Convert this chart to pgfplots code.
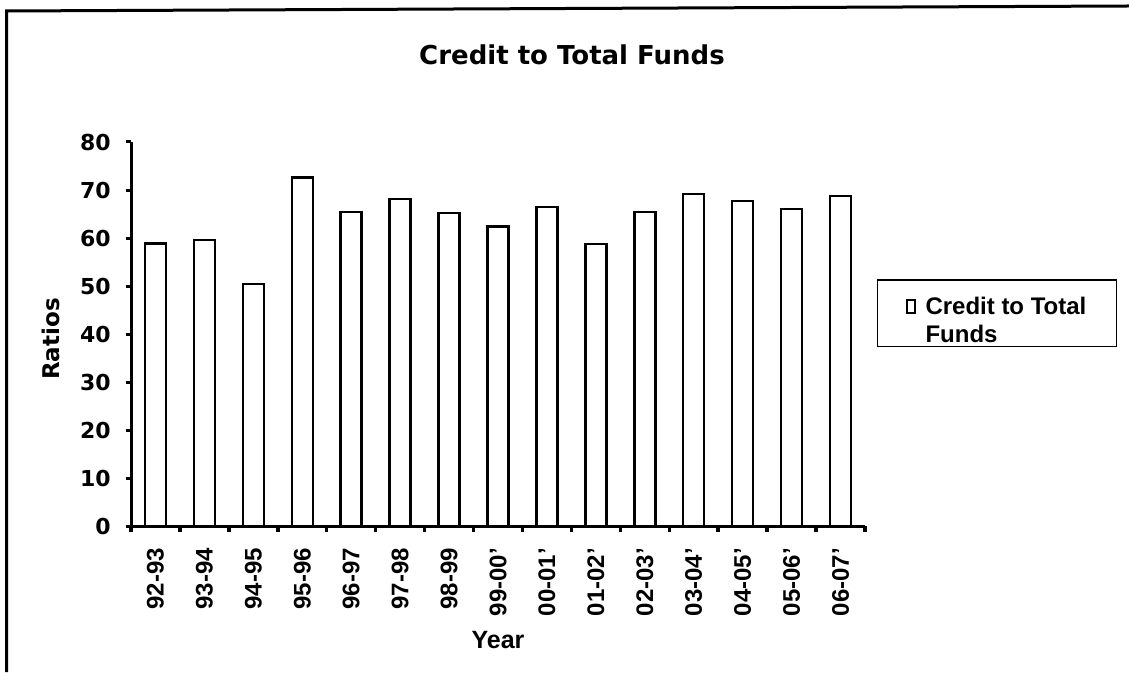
\documentclass[border=0pt]{standalone}
\usepackage{fontspec}
\setmainfont{Liberation Sans}
\newfontfamily\dejavu{DejaVu Sans}
\usepackage{pgfplots}
\usepackage{pgfplotstable}
\pgfplotsset{compat=1.18}

% Credit to total funds ratio by year
\pgfplotstableread{
idx val
0  58.9
1  59.6
2  50.4
3  72.6
4  65.4
5  68.1
6  65.2
7  62.4
8  66.5
9  58.7
10 65.4
11 69.2
12 67.7
13 66.0
14 68.7
}\credittable

\begin{document}
\begin{tikzpicture}[x=1pt,y=1pt]
\useasboundingbox (0,0) rectangle (1129,672);
% page frame (left and top edges)
\draw[line width=3pt] (6.5,0) -- (6.5,661) -- (1129,666);
\begin{axis}[
  at={(131pt,146pt)}, anchor=south west, scale only axis,
  width=734pt, height=384pt,
  ymin=0, ymax=80, ytick={0,10,...,80},
  xmin=-0.5, xmax=14.5,
  axis x line=bottom, axis y line=left,
  axis line style={line width=3pt, -},
  tick align=outside,
  major tick length=5pt,
  every tick/.style={line width=3pt, black},
  xtick={0,...,14},
  xticklabels={92-93,93-94,94-95,95-96,96-97,97-98,98-99,99-00',00-01',01-02',02-03',03-04',04-05',05-06',06-07'},
  major x tick style={draw=none},
  minor xtick={-0.5,0.5,...,14.5},
  minor tick length=6pt,
  minor x tick style={line width=3.5pt, black},
  xticklabel shift=17pt,
  x tick label style={rotate=90, anchor=east, inner sep=0pt,
    font=\bfseries\fontsize{24}{26}\selectfont},
  y tick label style={anchor=east, inner sep=0pt, xshift=-15pt,
    font=\dejavu\bfseries\fontsize{22}{26}\selectfont},
  /pgf/number format/assume math mode=true,
  title={Credit to Total Funds},
  title style={at={(axis description cs:0.6008,1.187)}, anchor=base, inner sep=0pt,
    font=\dejavu\bfseries\fontsize{26}{30}\selectfont},
  xlabel={Year},
  xlabel style={at={(axis description cs:0.5,-0.3177)}, anchor=base, inner sep=0pt,
    font=\bfseries\fontsize{25}{28}\selectfont},
  ylabel={Ratios},
  ylabel style={at={(axis description cs:-0.1093,0.487)}, anchor=center, inner sep=0pt,
    font=\dejavu\bfseries\fontsize{23}{28}\selectfont},
  legend style={at={(axis description cs:1.0163,0.6432)}, anchor=north west,
    draw=black, line width=1.5pt, inner xsep=28pt, inner ysep=0pt, column sep=8pt,
    font=\bfseries\fontsize{24}{28}\selectfont, cells={anchor=west}},
  legend image code/.code={\draw[line width=1.8pt, fill=white] (1pt,0pt) rectangle (9pt,13pt);},
]
\addplot[ybar, bar width=21pt, fill=white, draw=black, line width=2.5pt]
  table[x=idx, y=val] {\credittable};
\addlegendentry{\vbox{\hbox{\rule{0pt}{33pt}Credit to Total}\hbox{Funds}}}
\end{axis}
\end{tikzpicture}
\end{document}
